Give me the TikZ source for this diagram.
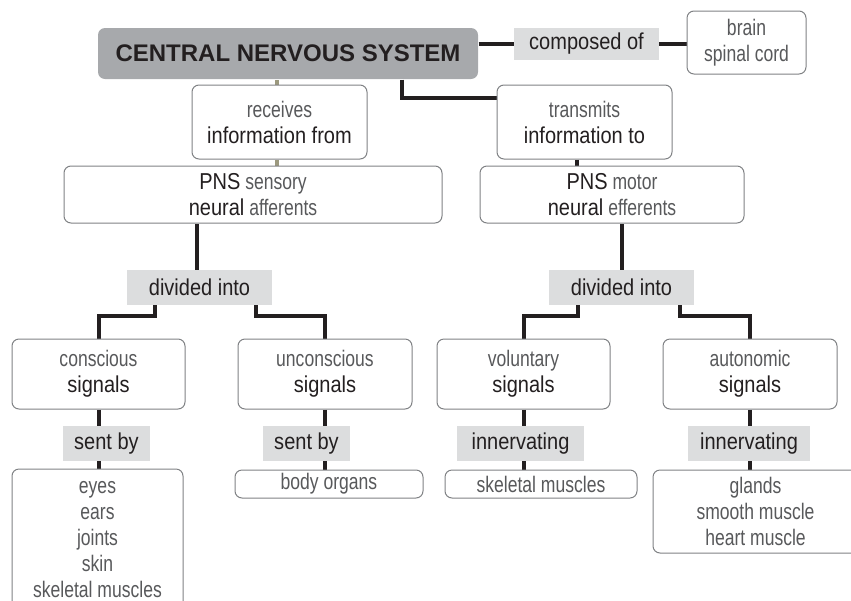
\documentclass[tikz,border=0pt]{standalone}
\usepackage{fontspec}
\setmainfont{Liberation Sans}
\newfontfamily\litefont[FakeStretch=0.78]{Liberation Sans}
\newfontfamily\firmfont[FakeStretch=0.87]{Liberation Sans}
\usetikzlibrary{positioning,backgrounds}
\definecolor{ink}{RGB}{35,31,32}
\definecolor{softtext}{RGB}{88,89,91}
\definecolor{frame}{RGB}{128,130,133}
\definecolor{cnsfill}{RGB}{167,169,172}
\definecolor{tagfill}{RGB}{220,221,222}
\definecolor{olive}{RGB}{156,153,126}
\newcommand{\firm}[1]{{\firmfont\fontsize{23}{26}\selectfont\color{ink}#1}}

\begin{document}
\begin{tikzpicture}[x=1pt, y=-1pt,
  box/.style 2 args={draw=frame, line width=1pt, rounded corners=7pt, fill=white,
    align=center, inner sep=0pt, minimum width=#1, minimum height=#2,
    font=\fontsize{22.5}{26}\selectfont\litefont, text=softtext},
  tag/.style 2 args={fill=tagfill, inner sep=0pt, minimum width=#1, minimum height=#2,
    font=\fontsize{23}{26}\selectfont\firmfont, text=ink},
  link/.style={draw=ink, line width=4pt},
]
\useasboundingbox (0,0) rectangle (851,600);

% top row
\node[box={380}{51}, fill=cnsfill, draw=none, text=ink,
  font=\fontsize{24}{26}\selectfont\bfseries] (cns) at (288,53.5) {CENTRAL NERVOUS SYSTEM};
\node[tag={145}{32}] (comp) at (586.5,44) {composed of};
\node[box={119}{63}] (brain) at (746.5,42.5) {brain\\spinal cord};

\node[box={175}{74}] (recv) at (279.5,122) {receives\\\firm{information from}};
\node[box={175}{74}] (trans) at (584.5,122) {transmits\\\firm{information to}};

\node[box={378}{57}] (sens) at (253,194.5) {\firm{PNS} sensory\\\firm{neural} afferents};
\node[box={264}{57}] (motor) at (612,194.5) {\firm{PNS} motor\\\firm{neural} efferents};

\node[tag={145}{35}] (divL) at (199.5,287.5) {divided into};
\node[tag={145}{35}] (divR) at (621.5,287.5) {divided into};

% signal kinds
\node[box={173}{70}] (cons) at (98.5,374) {conscious\\\firm{signals}};
\node[box={174}{70}] (uncons) at (325,374) {unconscious\\\firm{signals}};
\node[box={173}{70}] (vol) at (523.5,374) {voluntary\\\firm{signals}};
\node[box={174}{70}] (auto) at (750,374) {autonomic\\\firm{signals}};

\node[tag={87}{35}] (sentL) at (106.5,443.5) {sent by};
\node[tag={87}{35}] (sentR) at (306.5,443.5) {sent by};
\node[tag={127}{35}] (innL) at (520.5,443.5) {innervating};
\node[tag={122}{35}] (innR) at (749,443.5) {innervating};

% end points
\node[box={171}{141}] (eyes) at (97.5,539.5) {eyes\\ears\\joints\\skin\\skeletal muscles};
\node[box={188}{28}] (organs) at (329,484) {body organs};
\node[box={192}{28}] (skel) at (541,484) {skeletal muscles};
\node[box={205}{83}] (glands) at (755.5,511.5) {glands\\smooth muscle\\heart muscle};

\begin{scope}[on background layer]
\draw[link] (cns.east |- comp.west) -- (comp.west);
\draw[link] (comp.east) -- (comp.east -| brain.west);
\draw[link, draw=olive] ([xshift=-3pt]recv.north) -- ([xshift=-3pt]recv.north |- cns.south);
\draw[link, draw=olive] ([xshift=-3pt]recv.south) -- ([xshift=-3pt]recv.south |- sens.north);
\draw[link] ([xshift=114pt]cns.south) |- ([yshift=24pt]trans.west);
\draw[link] ([xshift=-8pt]trans.south) -- ([xshift=-8pt]trans.south |- motor.north);
\draw[link] ([xshift=-2.5pt]divL.north) -- ([xshift=-2.5pt]divL.north |- sens.south);
\draw[link] (divR.north) -- (divR.north |- motor.south);
\draw[link] ([xshift=-45pt]divL.south) -- ++(0,11) -| (cons.north);
\draw[link] ([xshift=56pt]divL.south) -- ++(0,11) -| (uncons.north);
\draw[link] ([xshift=-44pt]divR.south) -- ++(0,11) -| (vol.north);
\draw[link] ([xshift=58pt]divR.south) -- ++(0,11) -| (auto.north);
\foreach \a/\b in {cons/eyes, uncons/organs, vol/skel, auto/glands}
  \draw[link] (\a.south) -- (\a.south |- \b.north);
\end{scope}
\end{tikzpicture}
\end{document}
